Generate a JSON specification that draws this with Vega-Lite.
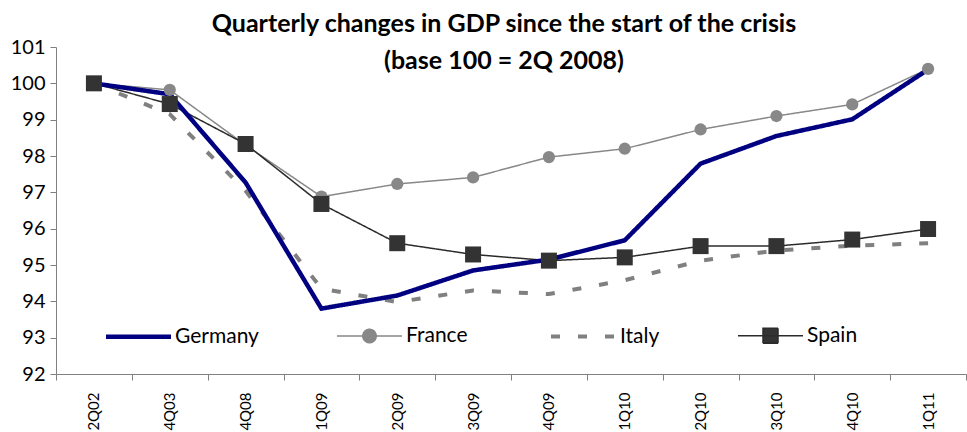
{
  "$schema": "https://vega.github.io/schema/vega-lite/v6.json",
  "width": 967,
  "height": 432,
  "autosize": {"type": "fit", "contains": "padding"},
  "padding": {"top": 12, "left": 10, "right": 0, "bottom": 1},
  "background": "white",
  "title": {
    "text": "Quarterly changes in GDP since the start of the crisis",
    "subtitle": "(base 100 = 2Q 2008)",
    "font": "Lato",
    "fontSize": 25,
    "fontWeight": "bold",
    "color": "black",
    "subtitleFont": "Lato",
    "subtitleFontSize": 25,
    "subtitleFontWeight": "bold",
    "subtitleColor": "black",
    "subtitlePadding": 12,
    "anchor": "middle",
    "frame": "group",
    "offset": -37,
    "dx": -7
  },
  "data": {
    "values": [
      {"q": "2Q02", "country": "France", "v": 100},
      {"q": "4Q03", "country": "France", "v": 99.82},
      {"q": "4Q08", "country": "France", "v": 98.3},
      {"q": "1Q09", "country": "France", "v": 96.88},
      {"q": "2Q09", "country": "France", "v": 97.23},
      {"q": "3Q09", "country": "France", "v": 97.41},
      {"q": "4Q09", "country": "France", "v": 97.97},
      {"q": "1Q10", "country": "France", "v": 98.2},
      {"q": "2Q10", "country": "France", "v": 98.73},
      {"q": "3Q10", "country": "France", "v": 99.1},
      {"q": "4Q10", "country": "France", "v": 99.42},
      {"q": "1Q11", "country": "France", "v": 100.4},
      {"q": "2Q02", "country": "Italy", "v": 100},
      {"q": "4Q03", "country": "Italy", "v": 99.15},
      {"q": "4Q08", "country": "Italy", "v": 97.04},
      {"q": "1Q09", "country": "Italy", "v": 94.35},
      {"q": "2Q09", "country": "Italy", "v": 93.98},
      {"q": "3Q09", "country": "Italy", "v": 94.3},
      {"q": "4Q09", "country": "Italy", "v": 94.2},
      {"q": "1Q10", "country": "Italy", "v": 94.58},
      {"q": "2Q10", "country": "Italy", "v": 95.12},
      {"q": "3Q10", "country": "Italy", "v": 95.4},
      {"q": "4Q10", "country": "Italy", "v": 95.53},
      {"q": "1Q11", "country": "Italy", "v": 95.6},
      {"q": "2Q02", "country": "Spain", "v": 100},
      {"q": "4Q03", "country": "Spain", "v": 99.43},
      {"q": "4Q08", "country": "Spain", "v": 98.33},
      {"q": "1Q09", "country": "Spain", "v": 96.68},
      {"q": "2Q09", "country": "Spain", "v": 95.6},
      {"q": "3Q09", "country": "Spain", "v": 95.29},
      {"q": "4Q09", "country": "Spain", "v": 95.12},
      {"q": "1Q10", "country": "Spain", "v": 95.21},
      {"q": "2Q10", "country": "Spain", "v": 95.52},
      {"q": "3Q10", "country": "Spain", "v": 95.52},
      {"q": "4Q10", "country": "Spain", "v": 95.7},
      {"q": "1Q11", "country": "Spain", "v": 95.99},
      {"q": "2Q02", "country": "Germany", "v": 100},
      {"q": "4Q03", "country": "Germany", "v": 99.7},
      {"q": "4Q08", "country": "Germany", "v": 97.27},
      {"q": "1Q09", "country": "Germany", "v": 93.8},
      {"q": "2Q09", "country": "Germany", "v": 94.16},
      {"q": "3Q09", "country": "Germany", "v": 94.85},
      {"q": "4Q09", "country": "Germany", "v": 95.15},
      {"q": "1Q10", "country": "Germany", "v": 95.68},
      {"q": "2Q10", "country": "Germany", "v": 97.79},
      {"q": "3Q10", "country": "Germany", "v": 98.55},
      {"q": "4Q10", "country": "Germany", "v": 99.01},
      {"q": "1Q11", "country": "Germany", "v": 100.38}
    ]
  },
  "encoding": {
    "x": {
      "field": "q",
      "type": "nominal",
      "sort": null,
      "scale": {"type": "band", "paddingInner": 0, "paddingOuter": 0},
      "axis": {
        "title": null,
        "labelAngle": -90,
        "labelFontSize": 15,
        "labelPadding": 12,
        "tickSize": 6,
        "tickBand": "extent",
        "domainColor": "#808080",
        "tickColor": "#808080"
      }
    },
    "y": {
      "field": "v",
      "type": "quantitative",
      "scale": {"domain": [92, 101], "zero": false, "nice": false},
      "axis": {
        "title": null,
        "values": [92, 93, 94, 95, 96, 97, 98, 99, 100, 101],
        "labelFontSize": 20,
        "labelPadding": 5,
        "tickSize": 6,
        "domainColor": "#808080",
        "tickColor": "#808080"
      }
    }
  },
  "layer": [
    {
      "mark": {"type": "line", "strokeJoin": "miter"},
      "encoding": {
        "stroke": {
          "field": "country",
          "type": "nominal",
          "scale": {
            "domain": ["Germany", "France", "Italy", "Spain"],
            "range": ["#000080", "#888888", "#808080", "#2b2b2b"]
          },
          "legend": {
            "title": null,
            "orient": "none",
            "direction": "horizontal",
            "columns": 4,
            "legendX": 50,
            "legendY": 277,
            "symbolSize": 400,
            "symbolOffset": 20,
            "labelOffset": 24,
            "columnPadding": 75,
            "labelFont": "Lato",
            "labelFontSize": 21,
            "labelColor": "black",
            "padding": 0,
            "encode": {
              "symbols": {
                "update": {
                  "shape": {"signal": "datum.value === 'France' ? 'M-3.25,0H3.25M-0.67,0A0.67,0.67 0 1,0 0.67,0A0.67,0.67 0 1,0 -0.67,0' : datum.value === 'Spain' ? 'M-3.25,0H3.25M-0.75,-0.75H0.75V0.75H-0.75Z' : 'M-3.25,0H3.25'"},
                  "fill": {"signal": "datum.value === 'France' ? '#888888' : datum.value === 'Spain' ? '#333333' : 'transparent'"}
                }
              }
            }
          }
        },
        "strokeDash": {
          "field": "country",
          "type": "nominal",
          "scale": {
            "domain": ["Germany", "France", "Italy", "Spain"],
            "range": [[1, 0], [1, 0], [9, 18], [1, 0]]
          },
          "legend": {"title": null, "orient": "none"}
        },
        "strokeWidth": {
          "field": "country",
          "type": "nominal",
          "scale": {
            "type": "ordinal",
            "domain": ["Germany", "France", "Italy", "Spain"],
            "range": [4.5, 1.5, 4, 1.5]
          },
          "legend": {"title": null, "orient": "none"}
        }
      }
    },
    {
      "transform": [{"filter": "datum.country === 'France' || datum.country === 'Spain'"}],
      "mark": {"type": "point", "filled": true, "opacity": 1},
      "encoding": {
        "shape": {
          "field": "country",
          "type": "nominal",
          "scale": {"domain": ["France", "Spain"], "range": ["circle", "square"]},
          "legend": null
        },
        "fill": {
          "field": "country",
          "type": "nominal",
          "scale": {"domain": ["France", "Spain"], "range": ["#888888", "#333333"]},
          "legend": null
        },
        "size": {
          "field": "country",
          "type": "nominal",
          "scale": {"type": "ordinal", "domain": ["France", "Spain"], "range": [150, 256]},
          "legend": null
        }
      }
    }
  ],
  "config": {
    "view": {"stroke": null},
    "font": "Lato",
    "axis": {"labelFont": "Lato", "labelColor": "black", "grid": false}
  }
}
